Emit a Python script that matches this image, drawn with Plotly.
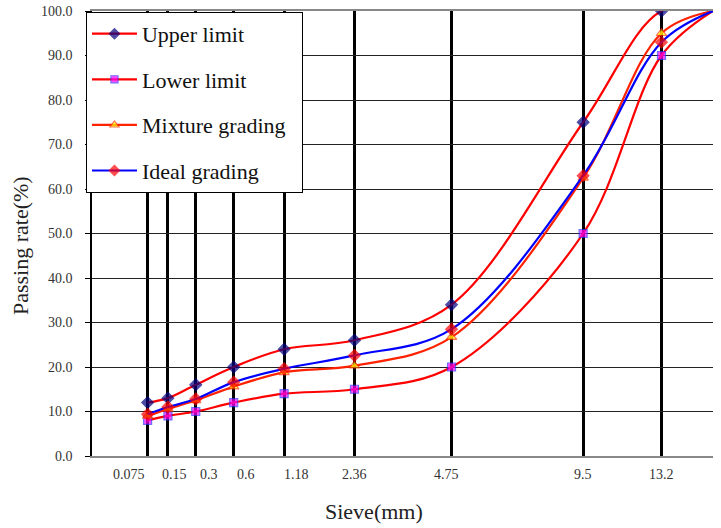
import plotly.graph_objects as go

# sieve sizes (mm) and passing rates (%)
sieve = [0.075, 0.15, 0.3, 0.6, 1.18, 2.36, 4.75, 9.5, 13.2, 16]
sieve_labels = ['0.075', '0.15', '0.3', '0.6', '1.18', '2.36', '4.75', '9.5', '13.2', '']
upper_limit = [12, 13, 16, 20, 24, 26, 34, 75, 100, 100]
lower_limit = [8, 9, 10, 12, 14, 15, 20, 50, 90, 100]
mixture_grading = [9.0, 10.6, 12.5, 15.6, 18.8, 20.3, 26.7, 62.5, 95, 100]
ideal_grading = [9.4, 11.0, 12.8, 16.6, 19.6, 22.6, 28.5, 63, 93, 100]

# label nudges in px (labels in the original are spread out at the fine end)
label_shift = [-19, 7, 13, 12, 12, 0, -5, 0, 0, 0]

font = '"Liberation Serif", "Times New Roman", Times, serif'
power = 0.45
xpos = [d ** power for d in sieve]
n = len(sieve)
pad = '\u00a0\u00a0'  # widens the legend box a little

def msizes(s):
    # no marker on the last (16 mm) point
    return [s] * (n - 1) + [0]

fig = go.Figure()
series = [
    ('Upper limit', upper_limit, '#FF0000', 'diamond', '#000080', '#000080', 9),
    ('Lower limit', lower_limit, '#FF0000', 'square', '#FF00FF', '#3333FF', 8),
    ('Mixture grading', mixture_grading, '#FF2200', 'triangle-up', '#FFFF00', '#FF3300', 9),
    ('Ideal grading', ideal_grading, '#0000FF', 'diamond', '#FF0000', '#FF0000', 9),
]
for i, (name, vals, lc, sym, mc, mlc, ms) in enumerate(series):
    fig.add_trace(go.Scatter(
        x=xpos, y=vals, name=name + pad, mode='lines+markers',
        legendgroup=name,
        line=dict(color=lc, width=2.2, shape='spline', smoothing=1.0),
        marker=dict(symbol=sym, size=msizes(ms), color=mc,
                    line=dict(color=mlc, width=[1.2] * (n - 1) + [0])),
    ))

for xp, lab, sh in zip(xpos, sieve_labels, label_shift):
    if lab:
        fig.add_annotation(x=xp, y=0, xref='x', yref='paper', text=lab,
                           showarrow=False, xshift=sh, yanchor='top', yshift=-9,
                           font=dict(family=font, size=14, color='#333333'))

fig.add_annotation(x=0.454, y=-0.124, xref='paper', yref='paper', text='Sieve(mm)',
                   showarrow=False, xanchor='center', yanchor='middle',
                   font=dict(family=font, size=22, color='#222222'))
fig.add_annotation(x=-0.116, y=0.474, xref='paper', yref='paper', text='Passing rate(%)',
                   showarrow=False, textangle=-90, xanchor='center', yanchor='middle',
                   font=dict(family=font, size=22, color='#222222'))

fig.update_layout(
    width=721, height=528,
    margin=dict(l=92, r=8, t=11, b=72),
    paper_bgcolor='white', plot_bgcolor='white',
    font=dict(family=font),
    showlegend=True,
    legend=dict(
        x=-0.0097, y=0.998, xanchor='left', yanchor='top',
        bgcolor='white', bordercolor='black', borderwidth=1,
        font=dict(family=font, size=22, color='#111111'),
        tracegroupgap=14, itemwidth=45,
    ),
    xaxis=dict(
        range=[0, 16 ** power], tickvals=xpos, showticklabels=False,
        showgrid=True, gridcolor='black', gridwidth=2.5,
        showline=True, linecolor='#888888', linewidth=2, mirror=True,
        zeroline=False, ticks='', automargin=False,
    ),
    yaxis=dict(
        range=[0, 100], dtick=10, tickformat='.1f',
        showgrid=True, gridcolor='#222222', gridwidth=1.2,
        showline=True, linecolor='black', linewidth=1.5,
        ticks='outside', ticklen=5, tickcolor='black', ticklabelstandoff=10,
        zeroline=False, automargin=False, ticklabeloverflow='allow',
        tickfont=dict(family=font, size=14, color='#333333'),
    ),
)

# drop the default 8px page margin so the figure sits at the window origin
fig.write_html('out.html', config={'displayModeBar': False},
               post_script="document.body.style.margin='0px';")
